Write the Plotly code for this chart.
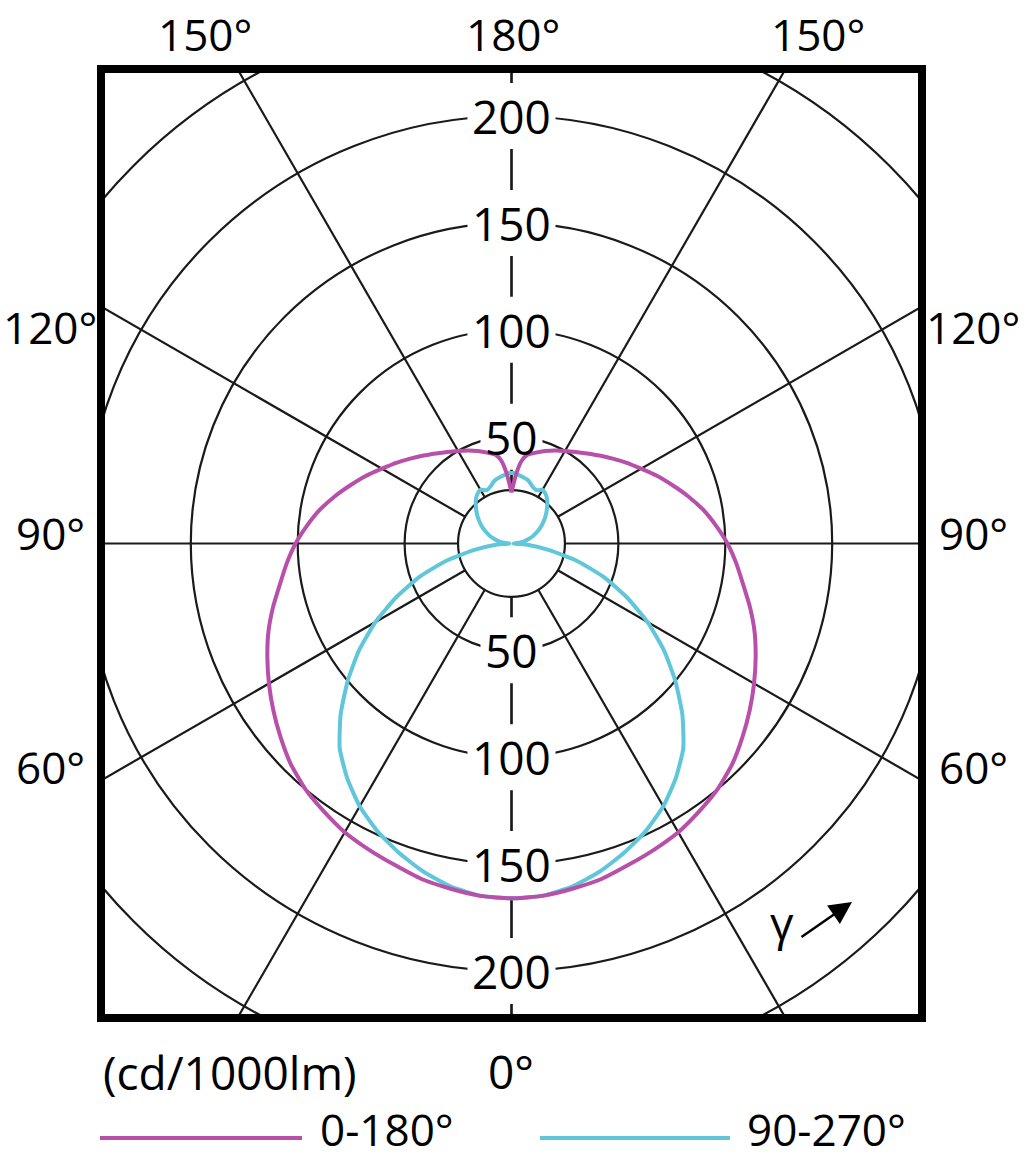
import numpy as np
import plotly.graph_objects as go

# ---------------- data ----------------
gamma_deg = [0, 5, 10, 15, 20, 25, 30, 35, 40, 45, 50, 55, 60, 65, 70, 75, 80, 85, 90,
             95, 100, 105, 110, 115, 120, 125, 130, 135, 140, 145, 150, 155, 160, 165, 170,
             173, 176, 178, 180]
# luminous intensity, cd/1000lm, plane C0-C180
int_c0_180 = [166, 165.5, 164, 162.5, 160, 158, 156, 153, 150, 146, 141, 136, 131, 126, 121,
              115.5, 110, 105.5, 101, 96, 91, 85.5, 80, 75, 70, 65.8, 61.8, 58.2, 55, 52.3, 50,
              48, 46, 44, 42, 39, 33, 28, 24]
# plane C90-C270
int_c90_270 = [166, 165.5, 163, 159, 154, 148.5, 142, 134, 125, 113, 100, 87, 73.5, 59.5, 46,
               32, 18, 8, 1, 3, 6, 8.5, 11, 13.5, 16, 18.5, 21, 23.5, 26, 28, 29, 27.5, 28.5,
               30.5, 31.5, 32, 32.5, 33, 33]
series_names = ["0-180°", "90-270°"]
ring_values = [25, 50, 100, 150, 200, 250]
ring_labels = [50, 100, 150, 200]
spoke_angles = [0, 30, 60, 90, 120, 150, 180]
angle_labels_top = ["150°", "180°", "150°"]
angle_labels_side = ["120°", "90°", "60°"]
unit_label = "(cd/1000lm)"

MAG = "#B84FA9"
CYA = "#60C6DA"
GRID = "#1a1a1a"
FONT = "Open Sans"
FS = 46
FW = 500

W, H = 1024, 1161
ML, MT = 101, 69
PW, PH = 821, 949
MR, MB = W - ML - PW, H - MT - PH


def px(xp):
    """page pixel x -> paper fraction"""
    return (xp - ML) / PW


def py(yp):
    """page pixel y -> paper fraction"""
    return 1 - (yp - MT) / PH


def polar_loop(g, r):
    g = np.radians(np.array(g, dtype=float))
    r = np.array(r, dtype=float)
    xl, yl = -r * np.sin(g), -r * np.cos(g)
    xr, yr = r[::-1] * np.sin(g[::-1]), -r[::-1] * np.cos(g[::-1])
    return np.concatenate([xl, xr]), np.concatenate([yl, yr])


fig = go.Figure()

shapes = []
# grid circles
for rv in ring_values:
    shapes.append(dict(type="circle", xref="x", yref="y", x0=-rv, x1=rv, y0=-rv, y1=rv,
                       line=dict(color=GRID, width=2.2), layer="below"))
# spokes
r_in, r_out = ring_values[0], 400
for a in spoke_angles:
    ar = np.radians(a)
    for s in (-1, 1):
        shapes.append(dict(type="line", xref="x", yref="y",
                           x0=s * r_in * np.sin(ar), y0=-r_in * np.cos(ar),
                           x1=s * r_out * np.sin(ar), y1=-r_out * np.cos(ar),
                           line=dict(color=GRID, width=2.2), layer="below"))
# white boxes behind ring labels
for rv in ring_labels:
    hw = 31 if rv < 100 else 44
    for s in (-1, 1):
        shapes.append(dict(type="rect", xref="x", yref="y", xsizemode="pixel", ysizemode="pixel",
                           xanchor=0, yanchor=s * rv, x0=-hw, x1=hw, y0=-33, y1=33,
                           fillcolor="white", line=dict(width=0), layer="below"))

# curves
xc, yc = polar_loop(gamma_deg, int_c90_270)
fig.add_trace(go.Scatter(x=xc, y=yc, mode="lines",
                         line=dict(color=CYA, width=4, shape="spline", smoothing=0.5),
                         name=series_names[1], showlegend=False, hoverinfo="skip"))
xm, ym = polar_loop(gamma_deg, int_c0_180)
fig.add_trace(go.Scatter(x=xm, y=ym, mode="lines",
                         line=dict(color=MAG, width=4, shape="spline", smoothing=0.5),
                         name=series_names[0], showlegend=False, hoverinfo="skip"))

# frame
shapes.append(dict(type="rect", xref="paper", yref="paper", x0=0, x1=1, y0=0, y1=1,
                   line=dict(color="black", width=8), layer="above"))
# legend lines
shapes.append(dict(type="line", xref="paper", yref="paper", x0=px(100), x1=px(302),
                   y0=py(1138), y1=py(1138), line=dict(color=MAG, width=4)))
shapes.append(dict(type="line", xref="paper", yref="paper", x0=px(540), x1=px(730),
                   y0=py(1138), y1=py(1138), line=dict(color=CYA, width=4)))

ann = []
font = dict(family=FONT, size=FS, color="black", weight=FW)
for rv in ring_labels:
    for s in (-1, 1):
        ann.append(dict(x=0, y=s * rv, xref="x", yref="y", text=str(rv), showarrow=False,
                        font=font, xanchor="center", yanchor="middle"))
top_font = dict(family=FONT, size=44, color="black", weight=FW)
for txt, xp in zip(angle_labels_top, [205, 513, 818]):
    ann.append(dict(x=px(xp), y=py(34), xref="paper", yref="paper", text=txt,
                    showarrow=False, font=top_font, xanchor="center", yanchor="middle"))
side_font = dict(family=FONT, size=44, color="black", weight=FW)
for txt, yp in zip(angle_labels_side, [327, 533, 767]):
    ann.append(dict(x=px(50), y=py(yp), xref="paper", yref="paper", text=txt,
                    showarrow=False, font=side_font, xanchor="center", yanchor="middle"))
    ann.append(dict(x=px(973), y=py(yp), xref="paper", yref="paper", text=txt,
                    showarrow=False, font=side_font, xanchor="center", yanchor="middle"))
ann.append(dict(x=px(511), y=py(1071), xref="paper", yref="paper", text="0°",
                showarrow=False, font=font, xanchor="center", yanchor="middle"))
ann.append(dict(x=px(230), y=py(1072), xref="paper", yref="paper", text=unit_label,
                showarrow=False, font=font, xanchor="center", yanchor="middle"))
legend_font = dict(family=FONT, size=44, color="black", weight=FW)
ann.append(dict(x=px(318), y=py(1129), xref="paper", yref="paper", text=series_names[0],
                showarrow=False, font=legend_font, xanchor="left", yanchor="middle"))
ann.append(dict(x=px(745), y=py(1129), xref="paper", yref="paper", text=series_names[1],
                showarrow=False, font=legend_font, xanchor="left", yanchor="middle"))
# gamma direction marker
ann.append(dict(x=px(782), y=py(922), xref="paper", yref="paper", text="γ",
                showarrow=False, font=font, xanchor="center", yanchor="middle"))
ann.append(dict(x=px(852), y=py(902), xref="paper", yref="paper", text="",
                showarrow=True, ax=-52, ay=36, axref="pixel", ayref="pixel",
                arrowhead=2, arrowsize=1.8, arrowwidth=2.5, arrowcolor="black"))

fig.update_layout(
    width=W, height=H, autosize=False,
    margin=dict(l=ML, r=MR, t=MT, b=MB, pad=0),
    paper_bgcolor="white", plot_bgcolor="white",
    xaxis=dict(range=[-192, 192], visible=False, fixedrange=True),
    yaxis=dict(range=[-222, 222], visible=False, fixedrange=True),
    shapes=shapes, annotations=ann, showlegend=False,
)

fig.write_html("out.html", config={"displayModeBar": False},
               post_script="document.body.style.margin='0';")
